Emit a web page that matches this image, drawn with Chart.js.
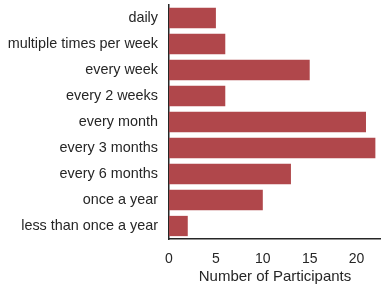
<!DOCTYPE html>
<html>
<head>
<meta charset="utf-8">
<script src="https://cdn.jsdelivr.net/npm/chart.js@4/dist/chart.umd.min.js"></script>
<style>
  body { margin: 0; background: #fff; }
</style>
</head>
<body>
<canvas id="myChart" width="381" height="290"></canvas>
<script>
// frequency categories and participant counts
var categories = ['daily', 'multiple times per week', 'every week', 'every 2 weeks',
    'every month', 'every 3 months', 'every 6 months', 'once a year', 'less than once a year'];
var participants = [5, 6, 15, 6, 21, 22, 13, 10, 2];
var xTicks = [0, 5, 10, 15, 20];

var ctx = document.getElementById('myChart').getContext('2d');
var chart = new Chart(ctx, {
    type: 'bar',
    data: {
        labels: categories,
        datasets: [{
            data: participants,
            backgroundColor: '#b0474b',
            borderWidth: 0,
            barPercentage: 0.78,
            categoryPercentage: 1.0
        }]
    },
    options: {
        indexAxis: 'y',
        responsive: false,
        animation: false,
        layout: { padding: { top: 5, right: 0, left: 0, bottom: 0 } },
        plugins: { legend: { display: false }, tooltip: { enabled: false } },
        scales: {
            x: {
                min: 0,
                max: 22.6,
                grid: { display: false, drawTicks: false },
                border: { display: true, color: '#262626', width: 1.5 },
                ticks: {
                    stepSize: 5,
                    includeBounds: false,
                    padding: 12,
                    color: '#262626',
                    font: { family: 'Liberation Sans, Arial, sans-serif', size: 14 }
                },
                afterBuildTicks: function(scale) {
                    scale.ticks = xTicks.map(function(v) { return { value: v }; });
                },
                title: {
                    display: true,
                    text: 'Number of Participants',
                    color: '#262626',
                    padding: { top: 0 },
                    font: { family: 'Liberation Sans, Arial, sans-serif', size: 15 }
                },
                afterFit: function(scale) {
                    scale.height = 51;
                    scale.paddingLeft = 0;
                    scale.paddingRight = 0;
                }
            },
            y: {
                grid: { display: false, drawTicks: false },
                border: { display: true, color: '#262626', width: 1.5 },
                ticks: {
                    padding: 11,
                    color: '#262626',
                    font: { family: 'Liberation Sans, Arial, sans-serif', size: 14.4 }
                },
                afterFit: function(scale) {
                    scale.width = 169;
                    scale.paddingTop = 0;
                    scale.paddingBottom = 0;
                }
            }
        }
    }
});
</script>
</body>
</html>
